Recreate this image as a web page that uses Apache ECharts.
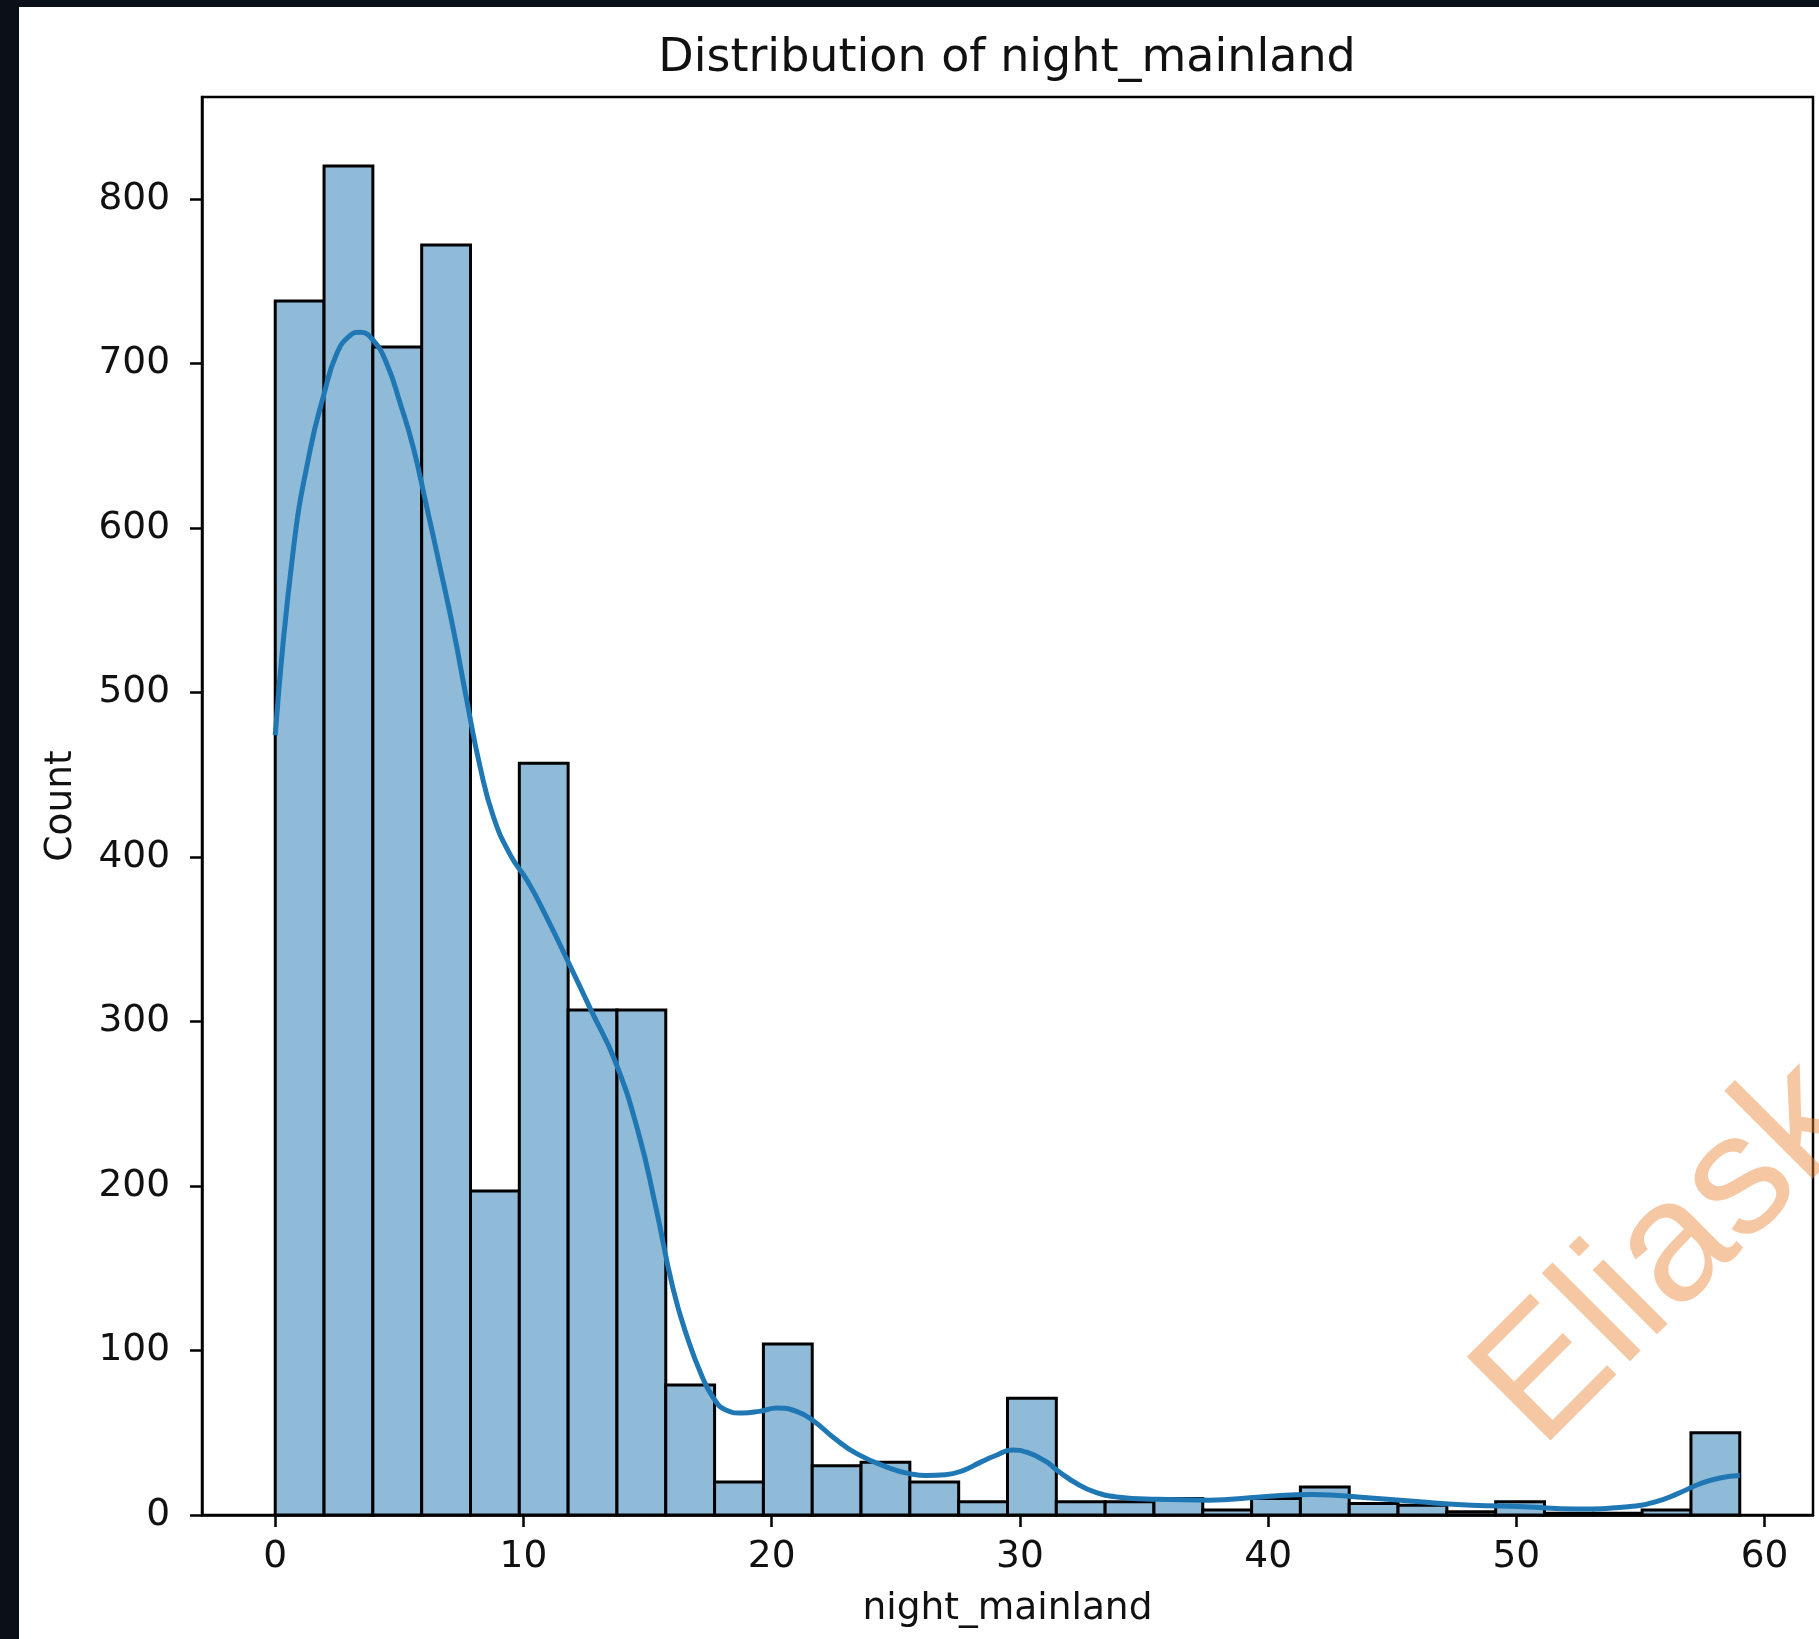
<!DOCTYPE html>
<html>
<head>
<meta charset="utf-8">
<script src="https://cdn.jsdelivr.net/npm/echarts@6/dist/echarts.min.js"></script>
<style>
  html, body { margin: 0; padding: 0; background: #0b0f18; }
  #chart { position: absolute; left: 19px; top: 7px; width: 1800px; height: 1632px; background: #ffffff; }
</style>
</head>
<body>
<div id="chart"></div>
<script>
// Histogram of night_mainland: 30 equal bins spanning 0 .. 59
const rangeMin = 0;
const rangeMax = 59;
const binCounts = [738, 820, 710, 772, 197, 457, 307, 307, 79, 20,
                   104, 30, 32, 20, 8, 71, 8, 8, 10, 3,
                   10, 17, 7, 6, 2, 8, 1, 1, 3, 50];

// Kernel density estimate, scaled to counts
const kdeX = [0, 0.73, 1.4, 1.94, 2.48, 3.01, 3.42, 3.95, 4.49, 5.03, 5.56, 6.1, 6.64, 7.18, 7.72, 8.25,
              8.8, 9.48, 10.18, 10.88, 11.81, 12.75, 13.69, 14.62, 15.32, 16.02, 16.6, 17.2, 17.66, 18.13,
              18.8, 19.5, 20.2, 21.0, 21.7, 22.5, 23.46, 24.84, 25.6, 26.23, 27.0, 27.7, 28.4, 29.0,
              29.7, 30.3, 31.0, 31.6, 32.3, 33.0, 33.9, 35.5, 37.6, 39.7, 41.8, 44.0, 46.1, 48.2,
              50.3, 52.4, 54.5, 55.6, 56.5, 57.4, 58.2, 59];
const kdeY = [474, 587, 647, 680, 706, 717, 719, 714, 700, 676, 649, 613, 576, 538, 495, 455,
              424, 401, 385, 365, 336, 306, 276, 233, 188, 138, 108, 84, 71, 64,
              62, 63, 65, 63, 57, 47, 37, 28, 25, 24, 24.5, 27, 32, 36,
              39.5, 38, 33, 26, 19, 14, 11, 9.5, 9, 11, 12.5, 10.5, 8, 6,
              5, 3.6, 5, 8, 13, 19, 22.5, 24];

const xTicks = [0, 10, 20, 30, 40, 50, 60];
const yTicks = [0, 100, 200, 300, 400, 500, 600, 700, 800];

const binWidth = (rangeMax - rangeMin) / binCounts.length;
const histData = binCounts.map((c, i) => [rangeMin + i * binWidth, rangeMin + (i + 1) * binWidth, c]);
const kdeData = kdeX.map((x, i) => [x, kdeY[i]]);

const FONT = 'DejaVu Sans';
const chart = echarts.init(document.getElementById('chart'), null, { renderer: 'canvas' });

chart.setOption({
  animation: false,
  backgroundColor: '#ffffff',
  title: {
    text: 'Distribution of night_mainland',
    left: 983,
    top: 24,
    textAlign: 'center',
    textStyle: { fontFamily: FONT, fontSize: 46, fontWeight: 'normal', color: '#111' }
  },
  grid: {
    left: 183, right: 6, top: 90, bottom: 124,
    show: true, borderColor: '#000', borderWidth: 2.5, backgroundColor: '#fff'
  },
  xAxis: {
    type: 'value',
    min: -2.95, max: 61.95,
    name: 'night_mainland',
    nameLocation: 'middle',
    nameGap: 75,
    nameTextStyle: { fontFamily: FONT, fontSize: 37.5, color: '#111' },
    axisLine: { show: true, onZero: false, lineStyle: { color: '#000', width: 2.5 } },
    axisTick: { show: true, length: 12, lineStyle: { color: '#000', width: 2.5 }, customValues: xTicks },
    axisLabel: { fontFamily: FONT, fontSize: 37.5, color: '#111', margin: 23, customValues: xTicks },
    splitLine: { show: false }
  },
  yAxis: {
    type: 'value',
    min: 0, max: 862,
    name: 'Count',
    nameLocation: 'middle',
    nameGap: 122,
    nameRotate: 90,
    nameTextStyle: { fontFamily: FONT, fontSize: 37.5, color: '#111' },
    axisLine: { show: true, onZero: false, lineStyle: { color: '#000', width: 2.5 } },
    axisTick: { show: true, length: 12, lineStyle: { color: '#000', width: 2.5 }, customValues: yTicks },
    axisLabel: { fontFamily: FONT, fontSize: 37.5, color: '#111', margin: 32, customValues: yTicks },
    splitLine: { show: false }
  },
  graphic: [{
    type: 'text',
    x: 1488, y: 1410,
    rotation: Math.PI / 4,
    z: 100,
    silent: true,
    style: {
      text: 'Eliask',
      font: '172px "Liberation Sans"',
      fill: 'rgba(236,130,50,0.45)',
      align: 'left',
      verticalAlign: 'middle'
    }
  }],
  series: [{
    type: 'custom',
    data: histData,
    encode: { x: [0, 1], y: 2 },
    renderItem: function (params, api) {
      const topLeft = api.coord([api.value(0), api.value(2)]);
      const bottomRight = api.coord([api.value(1), 0]);
      return {
        type: 'rect',
        shape: {
          x: topLeft[0], y: topLeft[1],
          width: bottomRight[0] - topLeft[0],
          height: bottomRight[1] - topLeft[1]
        },
        style: { fill: '#8fbbd9', stroke: '#000', lineWidth: 3 }
      };
    },
    z: 2
  }, {
    type: 'line',
    data: kdeData,
    smooth: 0.5,
    showSymbol: false,
    lineStyle: { color: '#1f77b4', width: 5 },
    z: 3
  }]
});
</script>
</body>
</html>
